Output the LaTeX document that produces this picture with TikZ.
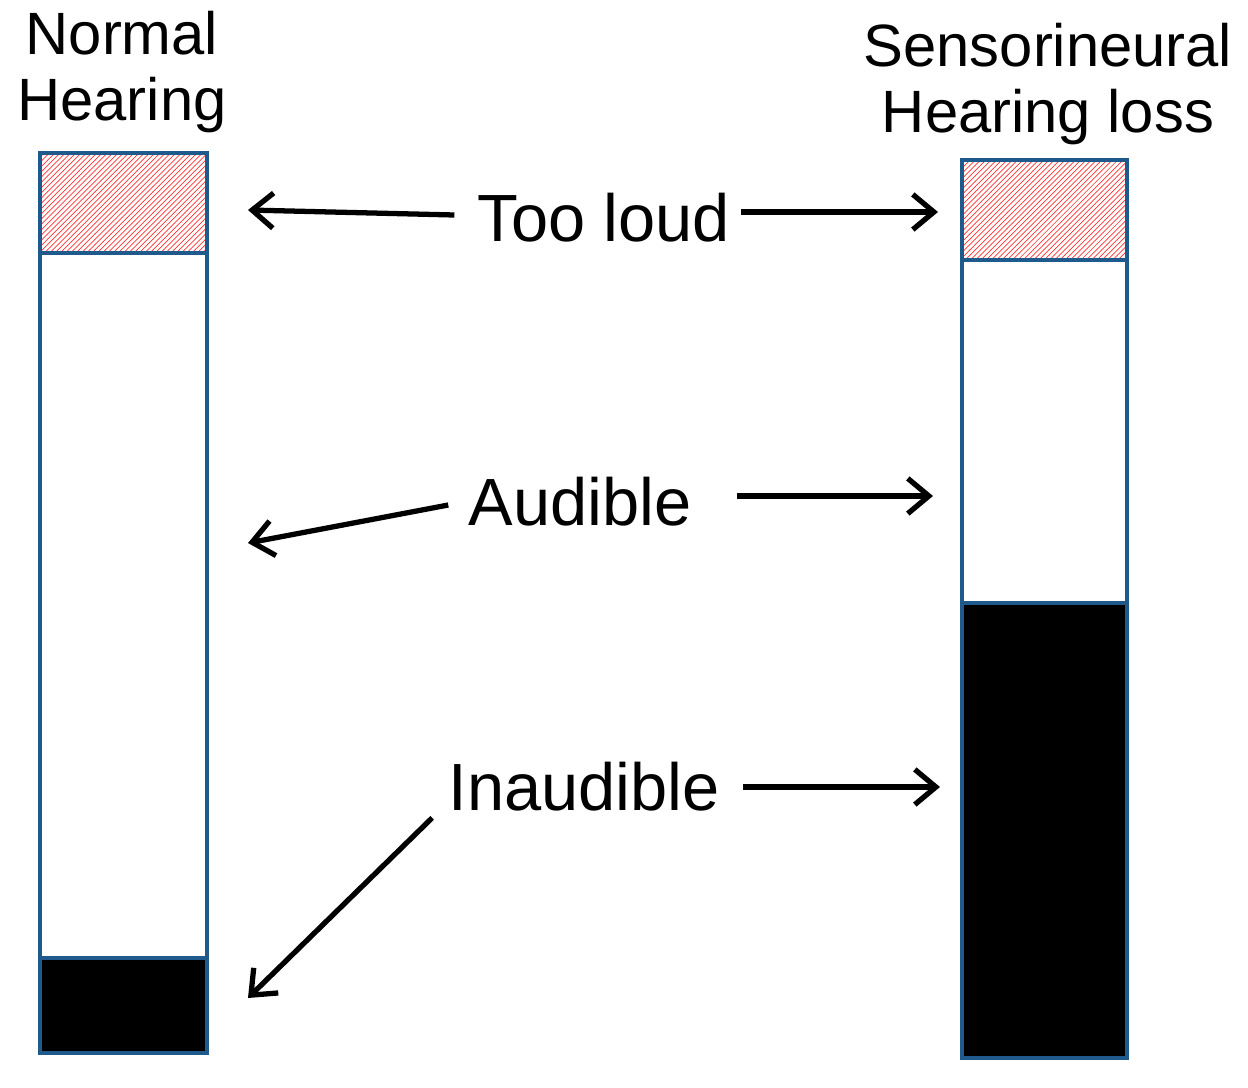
\documentclass[tikz,border=0pt]{standalone}
\usepackage{fontspec}
\setmainfont{Liberation Sans}
\usetikzlibrary{arrows.meta,patterns,calc}
\definecolor{barblue}{RGB}{31,90,140}
\tikzset{
  bar/.style={draw=barblue,line width=2.6pt},
  lbl/.style={font=\fontsize{38}{42}\selectfont,inner sep=0pt},
  ttl/.style={font=\fontsize{34}{38}\selectfont,align=center,inner sep=0pt},
  arr/.style={-{Straight Barb[length=12pt,width=20pt]},line width=3pt}
}
\begin{document}
\begin{tikzpicture}[x=0.02cm,y=-0.02cm]
\useasboundingbox (0,0) rectangle (1248,1088);
% left bar
\fill[pattern=north east lines,pattern color=red!80] (40,153) rectangle (207,253);
\fill (40,958) rectangle (207,1053);
\draw[bar] (40,153) rectangle (207,1053);
\draw[bar] (40,253) -- (207,253);
\draw[bar] (40,958) -- (207,958);
% right bar
\fill[pattern=north east lines,pattern color=red!80] (962,160) rectangle (1127,260);
\fill (962,603) rectangle (1127,1058);
\draw[bar] (962,160) rectangle (1127,1058);
\draw[bar] (962,260) -- (1127,260);
\draw[bar] (962,603) -- (1127,603);
% titles
\node[ttl] (normal) at (122,72) {Normal\\Hearing};
\node[ttl] (sensor) at (1048,84) {Sensorineural\\Hearing loss};
% labels
\node[lbl] (loud) at (604,218) {Too loud};
\node[lbl] (aud) at (580,502) {Audible};
\node[lbl] (inaud) at (584,787) {Inaudible};
\coordinate (l1) at (248,210);
\coordinate (r1) at (938,212);
\coordinate (l2) at (248,543);
\coordinate (r2) at (933,496);
\coordinate (l3) at (248,998);
\coordinate (r3) at (940,787);
\draw[arr] ($(loud.west)+(-23,-3)$) -- (l1);
\draw[arr] ($(loud.east)+(10,-6)$) -- (r1);
\draw[arr] ($(aud.west)+(-20,3)$) -- (l2);
\draw[arr] ($(aud.east)+(45,-6)$) -- (r2);
\draw[arr] ($(inaud.south west)+(-16,6)$) -- (l3);
\draw[arr] ($(inaud.east)+(23,0)$) -- (r3);
\end{tikzpicture}
\end{document}
